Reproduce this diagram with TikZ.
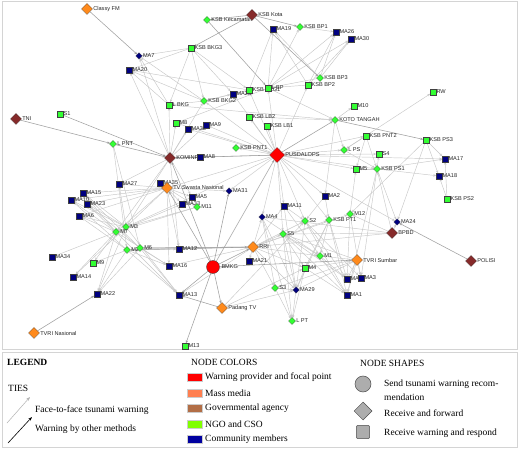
\documentclass[tikz,border=0pt]{standalone}
\usepackage{fontspec}
\setmainfont{Liberation Serif}
\newfontfamily\lblfont{Liberation Sans}
\usetikzlibrary{shapes.geometric,arrows.meta}
\pgfdeclarelayer{bg}
\pgfsetlayers{bg,main}
\definecolor{cblue}{HTML}{000080}
\definecolor{cgreen}{HTML}{33FF33}
\definecolor{corange}{HTML}{FF8A1C}
\definecolor{cbrown}{HTML}{862A2A}
\definecolor{cred}{HTML}{FF0000}
\definecolor{tiec}{HTML}{C8C8C8}
\definecolor{tiedc}{HTML}{A0A0A0}
\definecolor{framec}{HTML}{D4D4D4}
\tikzset{
  nd/.style={inner sep=0pt,outer sep=0pt,draw=black!75,line width=0.3pt},
  sqb/.style={nd,rectangle,minimum size=5.5pt,fill=cblue},
  sqg/.style={nd,rectangle,minimum size=5.5pt,fill=cgreen},
  dmg/.style={nd,diamond,minimum size=7pt,fill=cgreen},
  dmb/.style={nd,diamond,minimum size=6.5pt,fill=cblue},
  bdo/.style={nd,diamond,minimum size=11pt,fill=corange},
  bdr/.style={nd,diamond,minimum size=11pt,fill=cbrown},
  lbl/.style={font={\lblfont\fontsize{5.6}{6}\selectfont},inner sep=0.3pt,text=black!85},
  lab/.style={label={[lbl,label distance=0.3pt]0:#1}},
  tie/.style={draw=tiec,line width=0.45pt,-{Stealth[length=3pt,width=2.4pt]}},
  tied/.style={draw=tiedc,line width=0.55pt,-{Stealth[length=3pt,width=2.4pt]}},
  legtxt/.style={anchor=west,inner sep=0pt,font=\fontsize{9.5}{10}\selectfont},
  sw/.style={minimum width=15pt,minimum height=8pt,inner sep=0pt,draw=black!20,line width=0.3pt},
  shp/.style={fill=black!32,draw=black!70,line width=0.5pt,inner sep=0pt}
}
\begin{document}
\begin{tikzpicture}[x=1pt,y=-1pt]
\useasboundingbox (0,0) rectangle (520,449);
\begin{pgfonlayer}{bg}
\fill[white] (0,0) rectangle (520,449);
\draw[framec,line width=1pt] (2,2) rectangle (517,349.5);
\draw[framec,line width=1pt] (2,353) rectangle (517,447);
\end{pgfonlayer}

% ---------- nodes ----------
\node[bdo,lab=Classy FM] (classy) at (87,9) {};
\node[dmg,lab=KSB Kecamatan] (ksbkec) at (207,20) {};
\node[bdr,lab=KSB Kota] (ksbkota) at (252,15) {};
\node[dmb,lab=MA7] (ma7) at (139,56) {};
\node[sqg,lab=KSB BKG3] (bkg3) at (191,48) {};
\node[sqb,lab=MA20] (ma20) at (129,70) {};
\node[sqg,lab=L BKG] (lbkg) at (169,105) {};
\node[dmg,lab=KSB BKG2] (bkg2) at (204,101) {};
\node[sqb,lab=MA28] (ma28) at (233,94) {};
\node[sqg,lab=KSB BKG1] (bkg1) at (249,90) {};
\node[sqg,lab=L BP] (lbp) at (268,88) {};
\node[sqb,lab=MA19] (ma19) at (273,29) {};
\node[dmg,lab=KSB BP1] (bp1) at (300,27) {};
\node[sqb,lab=MA26] (ma26) at (336,32) {};
\node[sqb,lab=MA30] (ma30) at (351,39) {};
\node[dmg,lab=KSB BP3] (bp3) at (320,78) {};
\node[sqg,lab=KSB BP2] (bp2) at (308,85) {};
\node[bdr,lab=TNI] (tni) at (16,119) {};
\node[sqg,lab=S1] (s1) at (60,114) {};
\node[sqg,lab=M8] (m8) at (176,123) {};
\node[sqb,lab=MA32] (ma32) at (188,129) {};
\node[sqb,lab=MA9] (ma9) at (206,125) {};
\node[dmg,lab=L PNT] (lpnt) at (113,144) {};
\node[dmg,lab=KSB PNT1] (pnt1) at (236,148) {};
\node[bdr,lab=KOMINFO] (kominfo) at (170,158) {};
\node[sqb,lab=MA8] (ma8) at (200,157) {};
\node[sqg,lab=KSB LB2] (lb2) at (249,117) {};
\node[sqg,lab=KSB LB1] (lb1) at (267,126) {};
\node[sqg,lab=RW] (rw) at (433,92) {};
\node[sqg,lab=M10] (m10) at (354,106) {};
\node[dmg,lab=KOTO TANGAH] (koto) at (335,120) {};
\node[sqg,lab=KSB PNT2] (pnt2) at (366,136) {};
\node[sqg,lab=KSB PS3] (ps3) at (426,140) {};
\node[nd,diamond,minimum size=15pt,fill=cred,lab=PUSDALOPS] (pus) at (277,155) {};
\node[dmg,lab=L PS] (lps) at (344,150) {};
\node[sqg,lab=S4] (s4) at (379,154) {};
\node[sqb,lab=MA17] (ma17) at (445,159) {};
\node[sqg,lab=M5] (m5) at (356,169) {};
\node[dmg,lab=KSB PS1] (ps1) at (377,169) {};
\node[sqb,lab=MA18] (ma18) at (439,176) {};
\node[sqg,lab=KSB PS2] (ps2) at (447,199) {};
\node[sqb,lab=MA2] (ma2) at (325,196) {};
\node[sqb,lab=MA11] (ma11) at (284,206) {};
\node[dmb,lab=MA4] (ma4) at (262,217) {};
\node[dmg,lab=S2] (s2) at (305,221) {};
\node[dmg,lab=KSB PT1] (pt1) at (329,220) {};
\node[dmg,lab=M12] (m12) at (350,214) {};
\node[dmb,lab=MA24] (ma24) at (397,222) {};
\node[bdr,lab=BPBD] (bpbd) at (392,233) {};
\node[dmg,lab=S5] (s5) at (283,234) {};
\node[bdr,lab=POLISI] (polisi) at (471,261) {};
\node[dmg,lab=M1] (m1) at (320,256) {};
\node[bdo,lab=TVRI Sumbar] (tvris) at (357,260) {};
\node[sqg,lab=M4] (m4) at (305,268) {};
\node[sqb,lab=MA25] (ma25) at (347,279) {};
\node[sqb,lab=MA3] (ma3) at (361,278) {};
\node[dmg,lab=S3] (s3) at (275,288) {};
\node[dmb,lab=MA29] (ma29) at (296,290) {};
\node[sqb,lab=MA1] (ma1) at (347,295) {};
\node[dmg,lab=L PT] (lpt) at (292,321) {};
\node[sqb,lab=MA27] (ma27) at (119,184) {};
\node[sqb,lab=MA35] (ma35) at (160,183) {};
\node[bdo,lab=TV Swasta Nasional] (tv) at (167,188) {};
\node[sqb,lab=MA15] (ma15) at (83,193) {};
\node[sqb,lab=MA10] (ma10) at (71,200) {};
\node[sqb,lab=MA23] (ma23) at (87,204) {};
\node[sqb,lab=MA6] (ma6) at (79,216) {};
\node[sqb,lab=MA5] (ma5) at (192,197) {};
\node[dmb,lab=MA31] (ma31) at (229,191) {};
\node[sqb,lab=MA33] (ma33) at (182,204) {};
\node[dmg,lab=M11] (m11) at (197,207) {};
\node[dmg,lab=M3] (m3) at (126,227) {};
\node[dmg,lab=M7] (m7) at (116,232) {};
\node[dmg,lab=M2] (m2) at (127,250) {};
\node[dmg,lab=M6] (m6) at (140,248) {};
\node[sqb,lab=MA12] (ma12) at (179,249) {};
\node[bdo,lab=RRI] (rri) at (253,247) {};
\node[sqb,lab=MA34] (ma34) at (52,257) {};
\node[sqg,lab=M9] (m9) at (93,263) {};
\node[sqb,lab=MA16] (ma16) at (169,266) {};
\node[nd,circle,minimum size=13pt,fill=cred,label={[lbl,label distance=1.5pt]0:BMKG}] (bmkg) at (213,267) {};
\node[sqb,lab=MA21] (ma21) at (249,261) {};
\node[sqb,lab=MA14] (ma14) at (73,277) {};
\node[sqb,lab=MA22] (ma22) at (97,294) {};
\node[sqb,lab=MA13] (ma13) at (179,295) {};
\node[bdo,lab=Padang TV] (padang) at (222,308) {};
\node[bdo,lab=TVRI Nasional] (tvrin) at (34,333) {};
\node[sqg,lab=M13] (m13) at (185,346) {};

% ---------- ties (behind the nodes) ----------
\begin{pgfonlayer}{bg}
\foreach \a/\b in {bkg3/ma7,bkg3/ma20,bkg3/lbkg,bkg3/bkg2,bkg3/ma28,bkg3/bkg1,
  bkg2/ma20,bkg2/ma7,bkg2/lbkg,bkg2/ma28,lbkg/ma7,lbkg/ma20,bkg1/ma28,bkg1/bkg2,bkg1/ma20,
  kominfo/lbkg,kominfo/m8,kominfo/ma32,kominfo/ma9,kominfo/ma8,kominfo/ma7,kominfo/bkg2,kominfo/ma20,
  lbp/ma19,lbp/ma26,lbp/ma30,lbp/bp1,bp3/ma19,bp3/ma26,bp3/ma30,bp3/lbp,bp2/ma19,bp2/ma26,bp2/ma30,
  bp1/ma26,bkg1/ma19,bp2/lbp,lbkg/koto,m8/lbp,
  pus/lbp,pus/bkg1,pus/bp2,pus/lb1,pus/lb2,pus/bkg2,pus/pnt1,pus/ma8,pus/ma32,pus/ma9,pus/lps,
  pus/s4,pus/m5,pus/ps1,pus/ma2,pus/ma11,pus/ma4,pus/s2,pus/pt1,pus/s5,pus/ma24,pus/pnt2,pus/ma17,
  pus/m8,pus/tv,pus/ma5,pus/ma31,pus/ma28,
  koto/m10,koto/lps,koto/ma2,lbp/koto,lb2/koto,lps/rw,lps/ps1,pnt2/ps1,pnt2/lps,
  ps1/ma17,ps1/ma18,ps1/s4,ps1/m5,ps1/ma24,ps1/ma3,ps1/ma1,
  ps2/ma17,ps2/ma18,ps3/ma17,ps3/ma18,ps3/ma24,ps3/m12,
  bpbd/ma24,bpbd/ps1,bpbd/m12,bpbd/rri,bpbd/s5,bpbd/ma4,
  tv/ma27,tv/ma15,tv/ma10,tv/ma23,tv/ma6,tv/ma5,tv/ma31,tv/ma12,tv/m3,tv/m7,tv/m11,tv/ma16,tv/ma33,tv/ma35,
  m3/ma15,m3/ma10,m3/ma23,m3/ma6,m3/ma27,m3/ma22,m3/ma13,m3/ma14,
  m7/ma15,m7/ma10,m7/ma23,m7/ma6,m7/ma34,m7/ma14,m7/ma22,m7/m9,m7/ma16,m7/ma13,
  m2/ma12,m2/ma16,m2/ma13,m2/ma22,m2/m9,m2/ma10,m2/ma6,
  m6/ma12,m6/ma16,m6/ma13,m6/ma23,m6/ma15,m6/ma22,
  m11/m3,m11/m7,ma33/m7,ma5/m3,lpnt/m2,lpnt/m6,
  kominfo/m3,kominfo/m7,kominfo/ma27,kominfo/ma12,kominfo/ma5,
  rri/ma12,rri/ma16,rri/ma21,rri/s5,rri/s2,rri/ma11,rri/ma4,rri/m4,rri/m1,rri/ma29,rri/s3,rri/m6,
  rri/ma13,rri/pt1,rri/m12,
  padang/m4,padang/ma29,padang/s2,
  tvris/ma25,tvris/ma3,tvris/ma1,tvris/m4,tvris/m1,tvris/s3,tvris/ma29,tvris/s5,
  s2/ma1,s2/ma3,s2/ma25,s2/lpt,pt1/ma1,pt1/ma25,pt1/m4,pt1/m1,pt1/ma29,m12/m5,m12/ma25,
  s5/ma1,s5/ma25,s5/m4,s5/ma29,s5/lpt,s5/m1,ma4/lpt,ma4/s3,ma4/ma29,ma4/m1,
  m4/ma29,m4/lpt,s3/ma29,s3/lpt,m1/ma1,m1/ma25,m4/ma1,ma11/s2,ma11/m1,ma11/ma29,ma2/s2,ma2/pt1,
  pnt2/m5,m12/ma3}
  \draw[tie] (\a) -- (\b);
\foreach \a/\b in {classy/ma7,ksbkota/bp3,ksbkota/bp1,ksbkota/bkg3,ksbkota/ksbkec,ksbkec/lbp,
  tni/lpnt,s1/kominfo,polisi/ma24,tvrin/ma22,padang/ma13,bmkg/pus,bmkg/rri,bmkg/tv,bmkg/kominfo,
  bmkg/padang,bmkg/tvris,bmkg/m13,bmkg/ma31,bmkg/ma13,koto/ps3,pus/kominfo,lpnt/kominfo,m6/rri,
  pus/koto,rri/m2}
  \draw[tied] (\a) -- (\b);
\end{pgfonlayer}

% ---------- legend ----------
\node[anchor=west,inner sep=0pt,font=\fontsize{9.5}{10}\selectfont\bfseries] (lg) at (7,362) {LEGEND};
\node[legtxt] (ties) at (8,388) {TIES};
\coordinate (g1) at (7,423); \coordinate (g2) at (30,397);
\draw[draw=black!30,line width=0.5pt,-{Stealth[length=4pt,width=3pt]}] (g1) -- (g2);
\node[legtxt] (t1) at (35,410) {Face-to-face tsunami warning};
\coordinate (k1) at (8,443); \coordinate (k2) at (32,417);
\draw[black,line width=0.6pt,-{Stealth[length=4pt,width=3pt]}] (k1) -- (k2);
\node[legtxt] (t2) at (35,429) {Warning by other methods};

\node[legtxt] (nc) at (191,362) {NODE COLORS};
\node[sw,fill=cred] (sw1) at (195,377) {};
\node[legtxt] (c1) at (205,377) {Warning provider and focal point};
\node[sw,fill={rgb,255:red,255;green,127;blue,80}] (sw2) at (195,393) {};
\node[legtxt] (c2) at (205,393) {Mass media};
\node[sw,fill={rgb,255:red,178;green,110;blue,70}] (sw3) at (195,408) {};
\node[legtxt] (c3) at (205,408) {Governmental agency};
\node[sw,fill={rgb,255:red,128;green,255;blue,0}] (sw4) at (195,424) {};
\node[legtxt] (c4) at (205,424) {NGO and CSO};
\node[sw,fill={rgb,255:red,0;green,0;blue,160}] (sw5) at (195,439) {};
\node[legtxt] (c5) at (205,439) {Community members};

\node[legtxt] (ns) at (360,363) {NODE SHAPES};
\node[shp,circle,minimum size=16pt] (sh1) at (363,384) {};
\node[legtxt] (d1) at (384,384) {Send tsunami warning recom-};
\node[legtxt] (d1b) at (384,397) {mendation};
\node[shp,diamond,minimum size=18pt] (sh2) at (363,411) {};
\node[legtxt] (d2) at (384,413) {Receive and forward};
\node[inner sep=0pt,minimum size=13pt] (sh3) at (363,432) {};
\draw[shp,rounded corners=2pt] (sh3.north west) rectangle (sh3.south east);
\node[legtxt] (d3) at (384,433) {Receive warning and respond};
\end{tikzpicture}
\end{document}
